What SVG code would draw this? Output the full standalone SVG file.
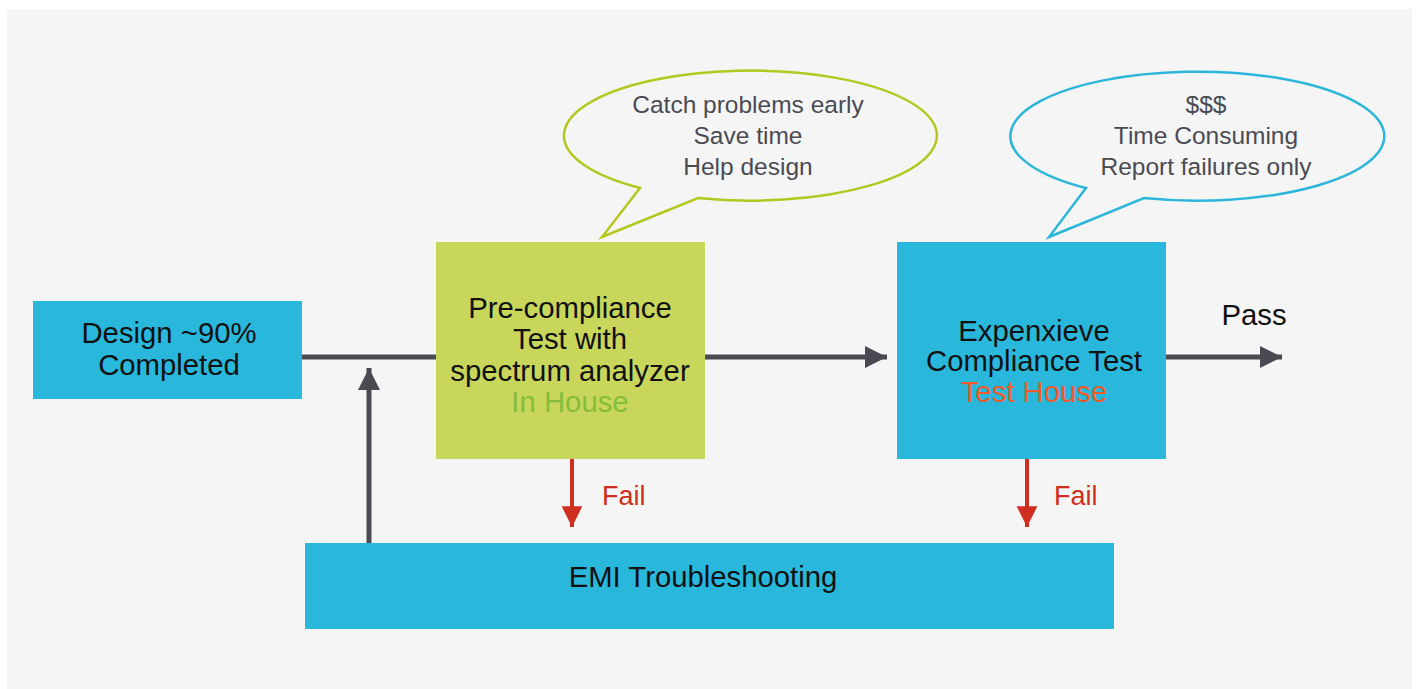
<svg xmlns="http://www.w3.org/2000/svg" width="1421" height="689" viewBox="0 0 1421 689">
  <defs>
    <style>
      text { font-family: "Liberation Sans", Arial, sans-serif; text-anchor: middle; }
      .node { font-size: 29.3px; fill: #111; }
      .note { font-size: 24.5px; fill: #4a4b52; }
      .fail { font-size: 27px; fill: #cf2e20; text-anchor: start; }
      .blue { fill: #29b8db; }
      .green { fill: #c8d65c; }
      .flow { stroke: #4a4b52; stroke-width: 5; fill: none; }
      .failline { stroke: #cf2e20; stroke-width: 4; fill: none; }
    </style>
    <marker id="arrowGray" viewBox="0 0 10 10" refX="10" refY="5" markerWidth="4.4" markerHeight="4.8" orient="auto" markerUnits="strokeWidth">
      <path d="M0,0 L10,5 L0,10 z" fill="#4a4b52"/>
    </marker>
    <marker id="arrowRed" viewBox="0 0 10 10" refX="10" refY="5" markerWidth="5.2" markerHeight="5.4" orient="auto" markerUnits="strokeWidth">
      <path d="M0,0 L10,5 L0,10 z" fill="#cf2e20"/>
    </marker>
  </defs>

  <!-- page background -->
  <rect x="0" y="0" width="1421" height="689" fill="#ffffff"/>
  <rect x="7" y="9" width="1405" height="680" fill="#f5f5f5"/>

  <!-- connectors -->
  <g id="connectors">
    <path class="flow" d="M302,357 H436"/>
    <path class="flow" d="M705,357 H887" marker-end="url(#arrowGray)"/>
    <path class="flow" d="M1166,357 H1282" marker-end="url(#arrowGray)"/>
    <path class="flow" d="M369,543 V368" marker-end="url(#arrowGray)"/>
    <path class="failline" d="M572,459 V527" marker-end="url(#arrowRed)"/>
    <path class="failline" d="M1027,459 V527" marker-end="url(#arrowRed)"/>
    <text class="fail" x="602" y="505">Fail</text>
    <text class="fail" x="1054" y="505">Fail</text>
    <text class="node" x="1254" y="325">Pass</text>
  </g>

  <!-- speech bubbles -->
  <g id="bubble-precompliance">
    <path d="M640,188 A186.5,65 0 1 1 698,198 L602,237 Z" fill="none" stroke="#b3c71e" stroke-width="2.5"/>
    <text class="note" x="748" y="113">Catch problems early</text>
    <text class="note" x="748" y="144">Save time</text>
    <text class="note" x="748" y="175">Help design</text>
  </g>
  <g id="bubble-compliance">
    <path d="M1086,188 A187,64.5 0 1 1 1144,198 L1049,237 Z" fill="none" stroke="#2bb6da" stroke-width="2.5"/>
    <text class="note" x="1206" y="113">$$$</text>
    <text class="note" x="1206" y="144">Time Consuming</text>
    <text class="note" x="1206" y="175">Report failures only</text>
  </g>

  <!-- nodes -->
  <g id="design">
    <rect class="blue" x="33" y="301" width="269" height="98"/>
    <text class="node" x="169" y="343">Design ~90%</text>
    <text class="node" x="169" y="375">Completed</text>
  </g>
  <g id="precompliance">
    <rect class="green" x="436" y="242" width="269" height="217"/>
    <text class="node" x="570" y="318">Pre-compliance</text>
    <text class="node" x="570" y="349">Test with</text>
    <text class="node" x="570" y="381">spectrum analyzer</text>
    <text class="node" x="570" y="412" style="fill:#86bd3a">In House</text>
  </g>
  <g id="compliance">
    <rect class="blue" x="897" y="242" width="269" height="217"/>
    <text class="node" x="1034" y="341">Expenxieve</text>
    <text class="node" x="1034" y="371">Compliance Test</text>
    <text class="node" x="1034" y="402" style="fill:#ef5a2a">Test House</text>
  </g>
  <g id="troubleshooting">
    <rect class="blue" x="305" y="543" width="809" height="86"/>
    <text class="node" x="703" y="587">EMI Troubleshooting</text>
  </g>
</svg>
